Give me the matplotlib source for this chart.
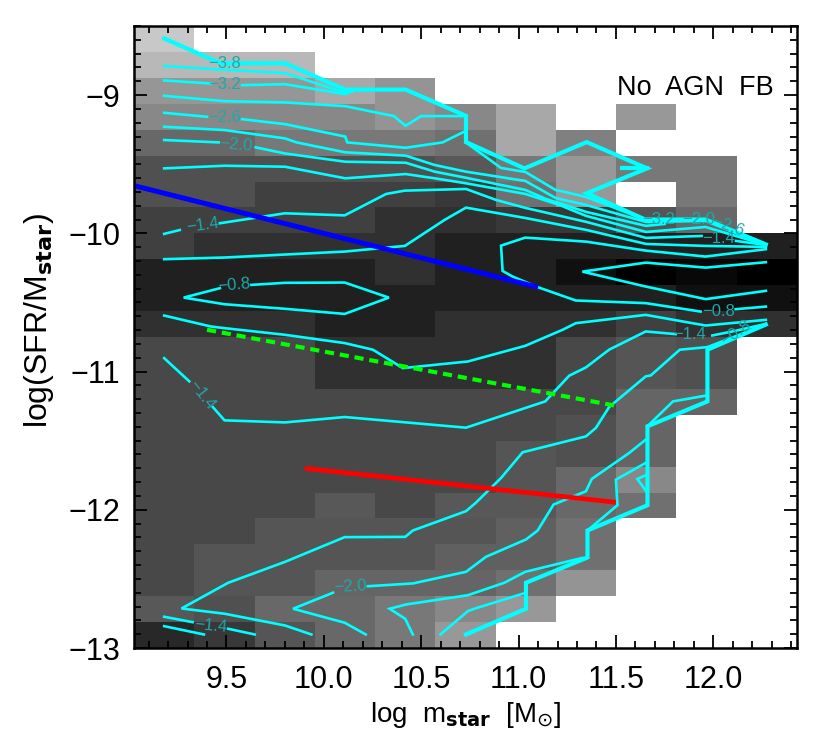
import numpy as np
import matplotlib
matplotlib.use('Agg')
import matplotlib.pyplot as plt
from matplotlib.ticker import MultipleLocator

plt.rcParams['font.family'] = ['Liberation Sans Narrow', 'Liberation Sans', 'DejaVu Sans']
plt.rcParams['mathtext.fontset'] = 'custom'
plt.rcParams['mathtext.rm'] = 'Liberation Sans Narrow'
plt.rcParams['mathtext.it'] = 'Liberation Sans Narrow'
plt.rcParams['mathtext.bf'] = 'Liberation Sans Narrow:bold'
plt.rcParams['mathtext.fallback'] = 'stixsans'

XMIN, XMAX = 9.025, 12.43
YMIN, YMAX = -13.0, -8.5

# grey level of each cell, top row first
W = 255
grey_rows = [
    [200, W, W, W, W, W, W, W, W, W, W],
    [184, 184, 184, W, W, W, W, W, W, W, W],
    [150, 150, 150, 168, 148, W, W, W, W, W, W],
    [136, 136, 136, 136, 148, 136, 168, W, 152, W, W],
    [104, 104, 120, 120, 120, 112, 168, 128, W, W, W],
    [80, 80, 80, 80, 80, 88, 120, 152, 120, 120, W],
    [80, 80, 64, 64, 64, 56, 112, 152, W, 120, W],
    [64, 64, 64, 64, 48, 48, 56, 56, 85, 104, W],
    [64, 48, 48, 48, 48, 32, 32, 32, 32, 32, 32],
    [32, 32, 32, 32, 48, 32, 32, 16, 0, 8, 0],
    [32, 32, 32, 32, 32, 32, 32, 32, 32, 16, 16],
    [48, 48, 48, 32, 32, 48, 48, 48, 64, 48, 48],
    [72, 72, 72, 48, 48, 48, 48, 72, 85, 80, W],
    [72, 72, 72, 48, 48, 48, 48, 72, 85, 80, W],
    [72, 72, 72, 72, 72, 72, 72, 72, 101, 101, W],
    [72, 72, 72, 72, 72, 72, 72, 80, 101, W, W],
    [72, 72, 72, 72, 72, 72, 85, 80, 101, W, W],
    [72, 72, 72, 72, 72, 72, 85, 104, 136, W, W],
    [72, 72, 72, 88, 72, 88, 88, 104, 112, W, W],
    [72, 72, 85, 85, 85, 85, 96, 112, W, W, W],
    [72, 85, 85, 85, 85, 96, 96, 112, W, W, W],
    [72, 85, 85, 101, 101, 101, 112, 148, W, W, W],
    [88, 80, 104, 104, 120, 136, 152, W, W, W, W],
    [40, 56, 85, 104, 120, 152, W, W, W, W, W],
]

# contour pieces (log mass, log sSFR), thin ones
thin_lines = [
    ([9.18, 9.47, 9.80, 10.08, 10.11, 10.15], [-8.79, -8.815, -8.84, -8.97, -8.98, -8.97]),
    ([9.18, 9.42], [-8.894, -8.916]),
    ([9.58, 9.80, 10.11, 10.15], [-8.928, -8.921, -8.993, -8.97]),
    ([9.18, 9.49, 9.80, 10.11, 10.36, 10.42, 10.50, 10.73], [-9.005, -9.044, -9.053, -9.08, -9.152, -9.222, -9.152, -9.152]),
    ([9.18, 9.40], [-9.128, -9.157]),
    ([9.58, 9.80, 10.11, 10.12, 10.42, 10.61, 10.73], [-9.174, -9.21, -9.30, -9.342, -9.381, -9.342, -9.258]),
    ([10.727, 10.91, 11.035, 11.19, 11.26, 11.347, 11.655], [-9.34, -9.527, -9.556, -9.686, -9.708, -9.737, -9.903]),
    ([9.18, 9.49, 9.80, 9.86, 10.11, 10.42, 10.57, 10.73, 11.035, 11.19, 11.347, 11.655, 11.96, 12.27],
     [-9.229, -9.253, -9.313, -9.342, -9.414, -9.438, -9.506, -9.554, -9.621, -9.744, -9.795, -9.918, -9.91, -10.084]),
    ([9.18, 9.46], [-9.325, -9.342]),
    ([9.65, 9.80, 10.11, 10.42, 10.57, 10.73, 11.035, 11.14, 11.347, 11.655, 11.75],
     [-9.378, -9.422, -9.482, -9.489, -9.554, -9.598, -9.686, -9.751, -9.845, -9.946, -9.932]),
    ([9.18, 9.49, 9.80, 10.11, 10.42, 10.57, 10.73, 11.035, 11.21, 11.347, 11.655, 11.96, 12.27],
     [-9.53, -9.511, -9.518, -9.602, -9.571, -9.602, -9.638, -9.715, -9.795, -9.874, -9.99, -9.954, -10.084]),
    ([9.18, 9.26], [-10.004, -9.976]),
    ([9.466, 9.80, 10.107, 10.32, 10.416, 10.73, 10.886, 11.035, 11.347, 11.655, 11.94],
     [-9.927, -9.855, -9.87, -9.715, -9.691, -9.679, -9.759, -9.816, -9.917, -10.033, -10.019]),
    ([12.117, 12.27], [-10.055, -10.084]),
    ([9.18, 9.49, 10.107, 10.416, 10.62, 10.73, 11.035, 11.347, 11.655, 11.96, 12.27],
     [-10.187, -10.175, -10.132, -10.091, -9.903, -9.814, -9.889, -9.975, -10.077, -10.091, -10.098]),
    ([9.466, 9.28, 9.49, 9.80, 10.107, 10.334, 10.107, 9.80, 9.628],
     [-10.397, -10.465, -10.513, -10.546, -10.583, -10.465, -10.356, -10.358, -10.373]),
    ([12.27, 11.96, 11.653, 11.346, 11.034, 10.91, 10.918, 10.97, 11.10, 11.294, 11.653, 11.935],
     [-10.115, -10.168, -10.125, -10.06, -10.031, -10.089, -10.272, -10.313, -10.39, -10.486, -10.505, -10.566]),
    ([12.115, 12.27], [-10.549, -10.53]),
    ([12.27, 11.961, 11.653, 11.328, 11.653, 11.961, 12.27], [-10.209, -10.248, -10.212, -10.277, -10.385, -10.476, -10.416]),
    ([9.18, 9.42, 9.49, 9.80, 10.107, 10.252, 10.406, 10.74, 11.034, 11.226, 11.294, 11.653, 11.961, 12.27],
     [-10.595, -10.674, -10.686, -10.734, -10.794, -10.842, -10.975, -10.927, -10.814, -10.698, -10.65, -10.59, -10.667, -10.626]),
    ([9.18, 9.309], [-10.903, -11.071]),
    ([9.43, 9.49, 9.80, 10.107, 10.73, 11.137, 11.26, 11.346, 11.465, 11.653, 11.807],
     [-11.257, -11.353, -11.368, -11.329, -11.406, -11.216, -11.03, -10.97, -10.842, -10.71, -10.729]),
    ([11.995, 12.115, 12.27], [-10.739, -10.705, -10.655]),
    ([9.936, 9.80, 9.49, 9.269, 9.509, 9.80, 10.107, 10.418, 10.457, 10.73, 10.78, 10.91, 11.021, 11.346, 11.397, 11.465, 11.653, 11.679, 11.828, 11.97, 12.27],
     [-12.902, -12.837, -12.752, -12.714, -12.528, -12.377, -12.198, -12.196, -12.15, -12.01, -11.95, -11.77, -11.584, -11.469, -11.408, -11.257, -11.035, -11.028, -10.842, -10.823, -10.66]),
    ([10.215, 10.107, 9.842, 10.047], [-12.902, -12.817, -12.716, -12.6]),
    ([10.226, 10.457, 10.73, 10.833, 11.038, 11.098, 11.18, 11.346, 11.376, 11.568, 11.653],
     [-12.553, -12.533, -12.449, -12.34, -12.215, -12.15, -11.962, -11.866, -11.777, -11.589, -11.493]),
    ([10.457, 10.418, 10.338, 10.423, 10.74, 10.927, 11.034, 11.328],
     [-12.902, -12.789, -12.716, -12.685, -12.618, -12.528, -12.449, -12.348]),
    ([10.599, 10.74, 10.773, 11.038], [-12.902, -12.733, -12.716, -12.6]),
    ([10.731, 10.748], [-12.902, -12.885]),
    ([11.354, 11.508, 11.5, 11.653], [-12.15, -11.967, -11.782, -11.661]),
    ([11.653, 11.61, 11.662], [-11.75, -11.777, -11.878]),
    ([11.662, 11.793, 11.97], [-11.396, -11.216, -11.172]),
    ([9.18, 9.326], [-12.774, -12.813]),
    ([9.509, 9.645], [-12.861, -12.902]),
    ([9.18, 9.384], [-12.842, -12.902]),
]

# outer contour pieces, where several levels run together
thick_lines = [
    ([9.18, 9.47, 9.80, 10.11, 10.42, 10.73, 10.73, 11.03, 11.35, 11.66, 11.35, 11.65, 11.96, 12.27],
     [-8.59, -8.77, -8.77, -8.96, -8.96, -9.15, -9.34, -9.53, -9.34, -9.53, -9.71, -9.90, -9.90, -10.08]),
    ([11.53, 11.66], [-9.53, -9.53]),
    ([12.27, 11.97, 11.97, 11.662, 11.662, 11.354, 11.354, 11.038, 11.038, 10.73],
     [-10.66, -10.842, -11.216, -11.396, -11.967, -12.15, -12.345, -12.528, -12.716, -12.902]),
]

blue_x = [9.025, 11.10]
blue_y = [-9.655, -10.39]
green_x = [9.40, 11.49]
green_y = [-10.698, -11.245]
red_x = [9.902, 11.50]
red_y = [-11.70, -11.946]

# level labels: x, y, text, rotation
level_labels = [
    (9.49, -8.77, '\u22123.8', 0),
    (9.49, -8.925, '\u22123.2', 0), (9.49, -9.164, '\u22122.6', 0),
    (9.55, -9.361, '\u22122.0', -5), (9.377, -9.944, '\u22121.4', 8),
    (9.538, -10.378, '\u22120.8', 5), (9.372, -11.168, '\u22121.4', -52),
    (10.136, -12.557, '\u22122.0', 3), (9.418, -12.842, '\u22121.4', -5),
    (12.026, -10.566, '\u22120.8', 0), (12.026, -10.036, '\u22121.4', 0),
    (11.925, -9.898, '\u22122.0', 0), (12.075, -9.95, '\u22122.6', -20),
    (11.72, -9.898, '\u22123.2', 0),
    (11.88, -10.734, '\u22121.4', 0), (12.118, -10.722, '\u22120.8', 35),
]

fig = plt.figure(figsize=(8.3, 7.55), dpi=100)
ax = fig.add_axes([134 / 830, 1 - 648 / 755, 663 / 830, 622 / 755])

xedges = np.linspace(XMIN, XMAX, len(grey_rows[0]) + 1)
yedges = np.linspace(YMAX, YMIN, len(grey_rows) + 1)
ax.pcolormesh(xedges, yedges, np.array(grey_rows), cmap='gray', vmin=0, vmax=255,
              linewidth=0, zorder=1)

for x, y in thin_lines:
    ax.plot(x, y, color='#00ffff', lw=1.9, solid_joinstyle='miter', zorder=3)
for x, y in thick_lines:
    ax.plot(x, y, color='#00ffff', lw=3.0, solid_joinstyle='miter', zorder=3)

for x, y, s, rot in level_labels:
    ax.text(x, y, s, color='#1fa8aa', fontsize=12, rotation=rot,
            ha='center', va='center', zorder=4)

ax.plot(blue_x, blue_y, color='#0000ff', lw=3.6, solid_capstyle='butt', zorder=5)
ax.plot(green_x, green_y, color='#00ff00', lw=3.0, dashes=(2.2, 1.4), dash_capstyle='butt', zorder=5)
ax.plot(red_x, red_y, color='#ff0000', lw=3.4, solid_capstyle='butt', zorder=5)

ax.text(11.505, -8.95, 'No  AGN  FB', fontsize=19.5, color='black', ha='left', va='center', zorder=6)

ax.set_xlim(XMIN, XMAX)
ax.set_ylim(YMIN, YMAX)
ax.xaxis.set_major_locator(MultipleLocator(0.5))
ax.xaxis.set_minor_locator(MultipleLocator(0.1))
ax.yaxis.set_major_locator(MultipleLocator(1))
ax.yaxis.set_minor_locator(MultipleLocator(0.1))
ax.set_xticks([9.5, 10.0, 10.5, 11.0, 11.5, 12.0])
ax.set_xticklabels(['9.5', '10.0', '10.5', '11.0', '11.5', '12.0'])
ax.tick_params(which='major', direction='in', length=9.5, width=1.3, top=True, right=True,
               labelsize=22, zorder=7)
ax.tick_params(axis='x', which='major', pad=12)
ax.tick_params(axis='y', which='major', pad=10)
ax.tick_params(which='minor', direction='in', length=5, width=1.3, top=True, right=True, zorder=7)
for sp in ax.spines.values():
    sp.set_linewidth(1.8)
    sp.set_zorder(8)

ax.set_xlabel(r'log  m$_{\mathbf{star}}$  [M$_{\odot}$]', fontsize=20, labelpad=4)
ax.set_ylabel(r'log(SFR/M$_{\mathbf{star}}$)', fontsize=23, labelpad=9, y=0.527)

fig.savefig('out.png', dpi=100)
